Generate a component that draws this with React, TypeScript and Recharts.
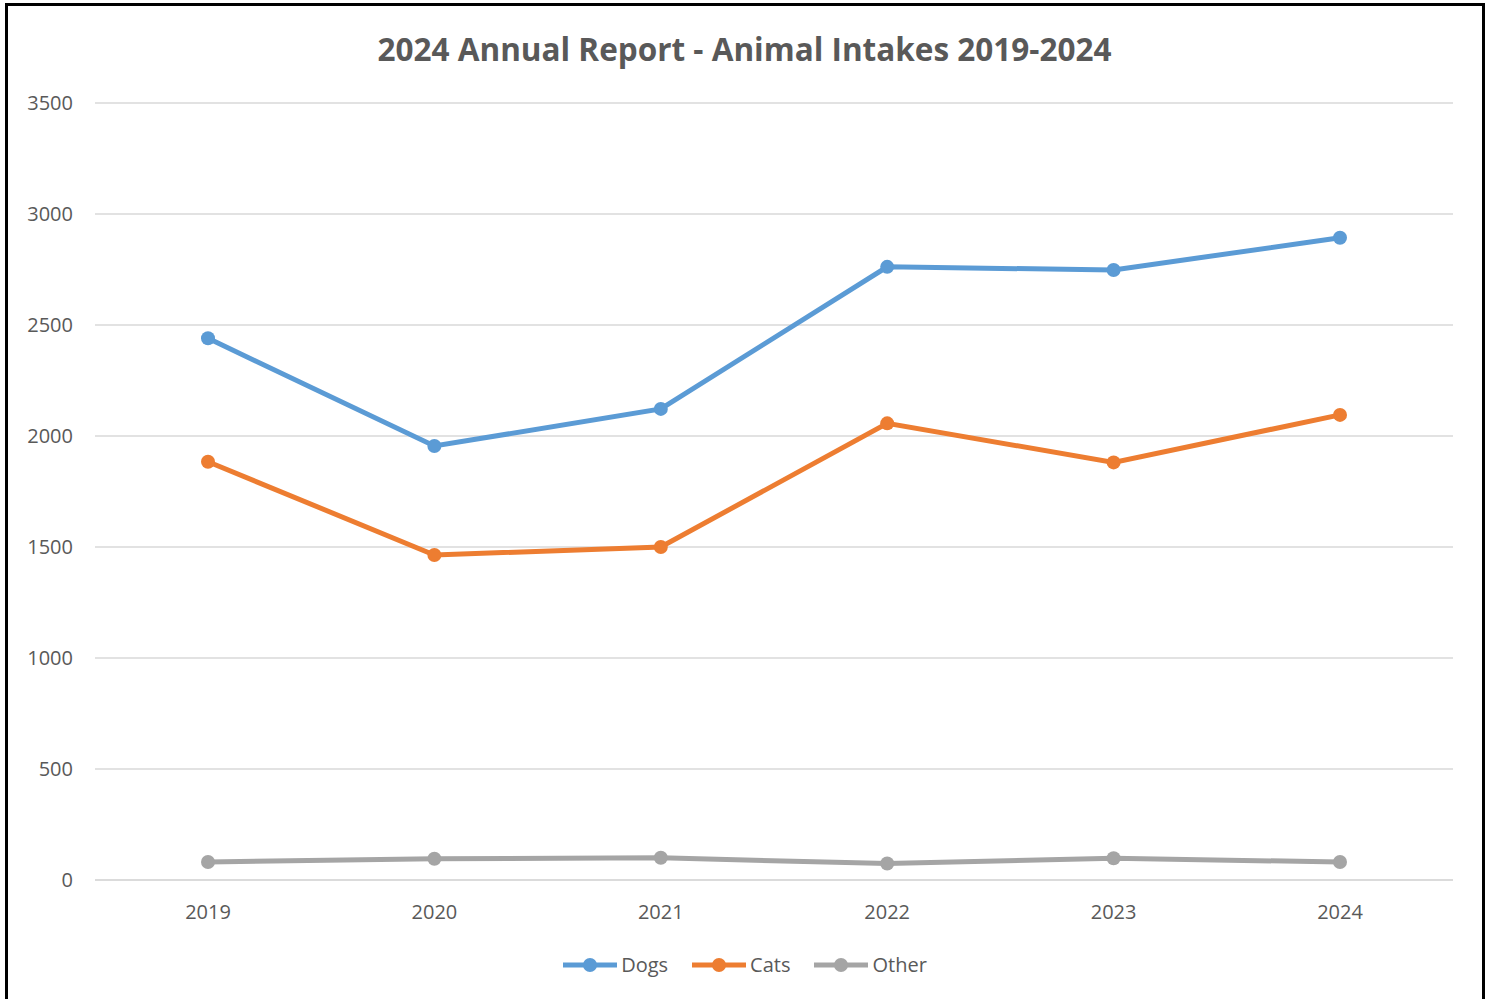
import { LineChart, Line, XAxis, YAxis, CartesianGrid } from 'recharts';

const years = ['2019', '2020', '2021', '2022', '2023', '2024'];
const dogs = [2440, 1955, 2122, 2762, 2748, 2893];
const cats = [1884, 1464, 1500, 2057, 1881, 2095];
const other = [81, 96, 100, 74, 98, 81];
const yTicks = [0, 500, 1000, 1500, 2000, 2500, 3000, 3500];

const series = [
  { key: 'Dogs', color: '#5B9BD5' },
  { key: 'Cats', color: '#ED7D31' },
  { key: 'Other', color: '#A5A5A5' },
];

const data = years.map((year, i) => ({
  year,
  Dogs: dogs[i],
  Cats: cats[i],
  Other: other[i],
}));

const FONT = '"Open Sans", "Noto Sans", sans-serif';

export default function App() {
  return (
    <div style={{ position: 'fixed', left: 0, top: 0, width: 1489, height: 999, overflow: 'hidden', background: '#fff', fontFamily: FONT }}>
      <div style={{ position: 'absolute', left: 5, top: 3, width: 1474, height: 1020, border: '3px solid #000' }} />

      <div style={{ position: 'absolute', left: 0, top: 28, width: 1489, textAlign: 'center', fontSize: 31.5, fontWeight: 700, color: '#595959', lineHeight: '42px' }}>
        2024 Annual Report - Animal Intakes 2019-2024
      </div>

      <div style={{ position: 'absolute', left: 0, top: 0 }}>
        <LineChart width={1489} height={999} data={data} margin={{ top: 103, right: 36, bottom: 89, left: 0 }}>
          <CartesianGrid vertical={false} stroke="#D9D9D9" strokeWidth={1.5} />
          <XAxis
            dataKey="year"
            padding={{ left: 113, right: 113 }}
            axisLine={{ stroke: '#D9D9D9', strokeWidth: 1.5 }}
            tickLine={false}
            tickSize={0}
            tickMargin={25}
            tick={{ fill: '#595959', fontSize: 20, fontFamily: FONT }}
          />
          <YAxis
            width={95}
            domain={[0, 3500]}
            ticks={yTicks}
            axisLine={false}
            tickLine={false}
            tickSize={0}
            tickMargin={22}
            tick={{ fill: '#595959', fontSize: 20, fontFamily: FONT }}
          />
          {series.map((s) => (
            <Line
              key={s.key}
              dataKey={s.key}
              stroke={s.color}
              strokeWidth={5}
              dot={{ r: 7, fill: s.color, stroke: s.color, strokeWidth: 0 }}
              activeDot={false}
              isAnimationActive={false}
            />
          ))}
        </LineChart>
      </div>

      <div style={{ position: 'absolute', left: 0, top: 950, width: 1489, display: 'flex', justifyContent: 'center', alignItems: 'center', gap: 23, fontSize: 20, color: '#595959' }}>
        {series.map((s) => (
          <div key={s.key} style={{ display: 'flex', alignItems: 'center' }}>
            <svg width={56} height={20}>
              <line x1={1} y1={10} x2={55} y2={10} stroke={s.color} strokeWidth={5} />
              <circle cx={28} cy={10} r={7} fill={s.color} />
            </svg>
            <span style={{ marginLeft: 3, lineHeight: '30px' }}>{s.key}</span>
          </div>
        ))}
      </div>
    </div>
  );
}
